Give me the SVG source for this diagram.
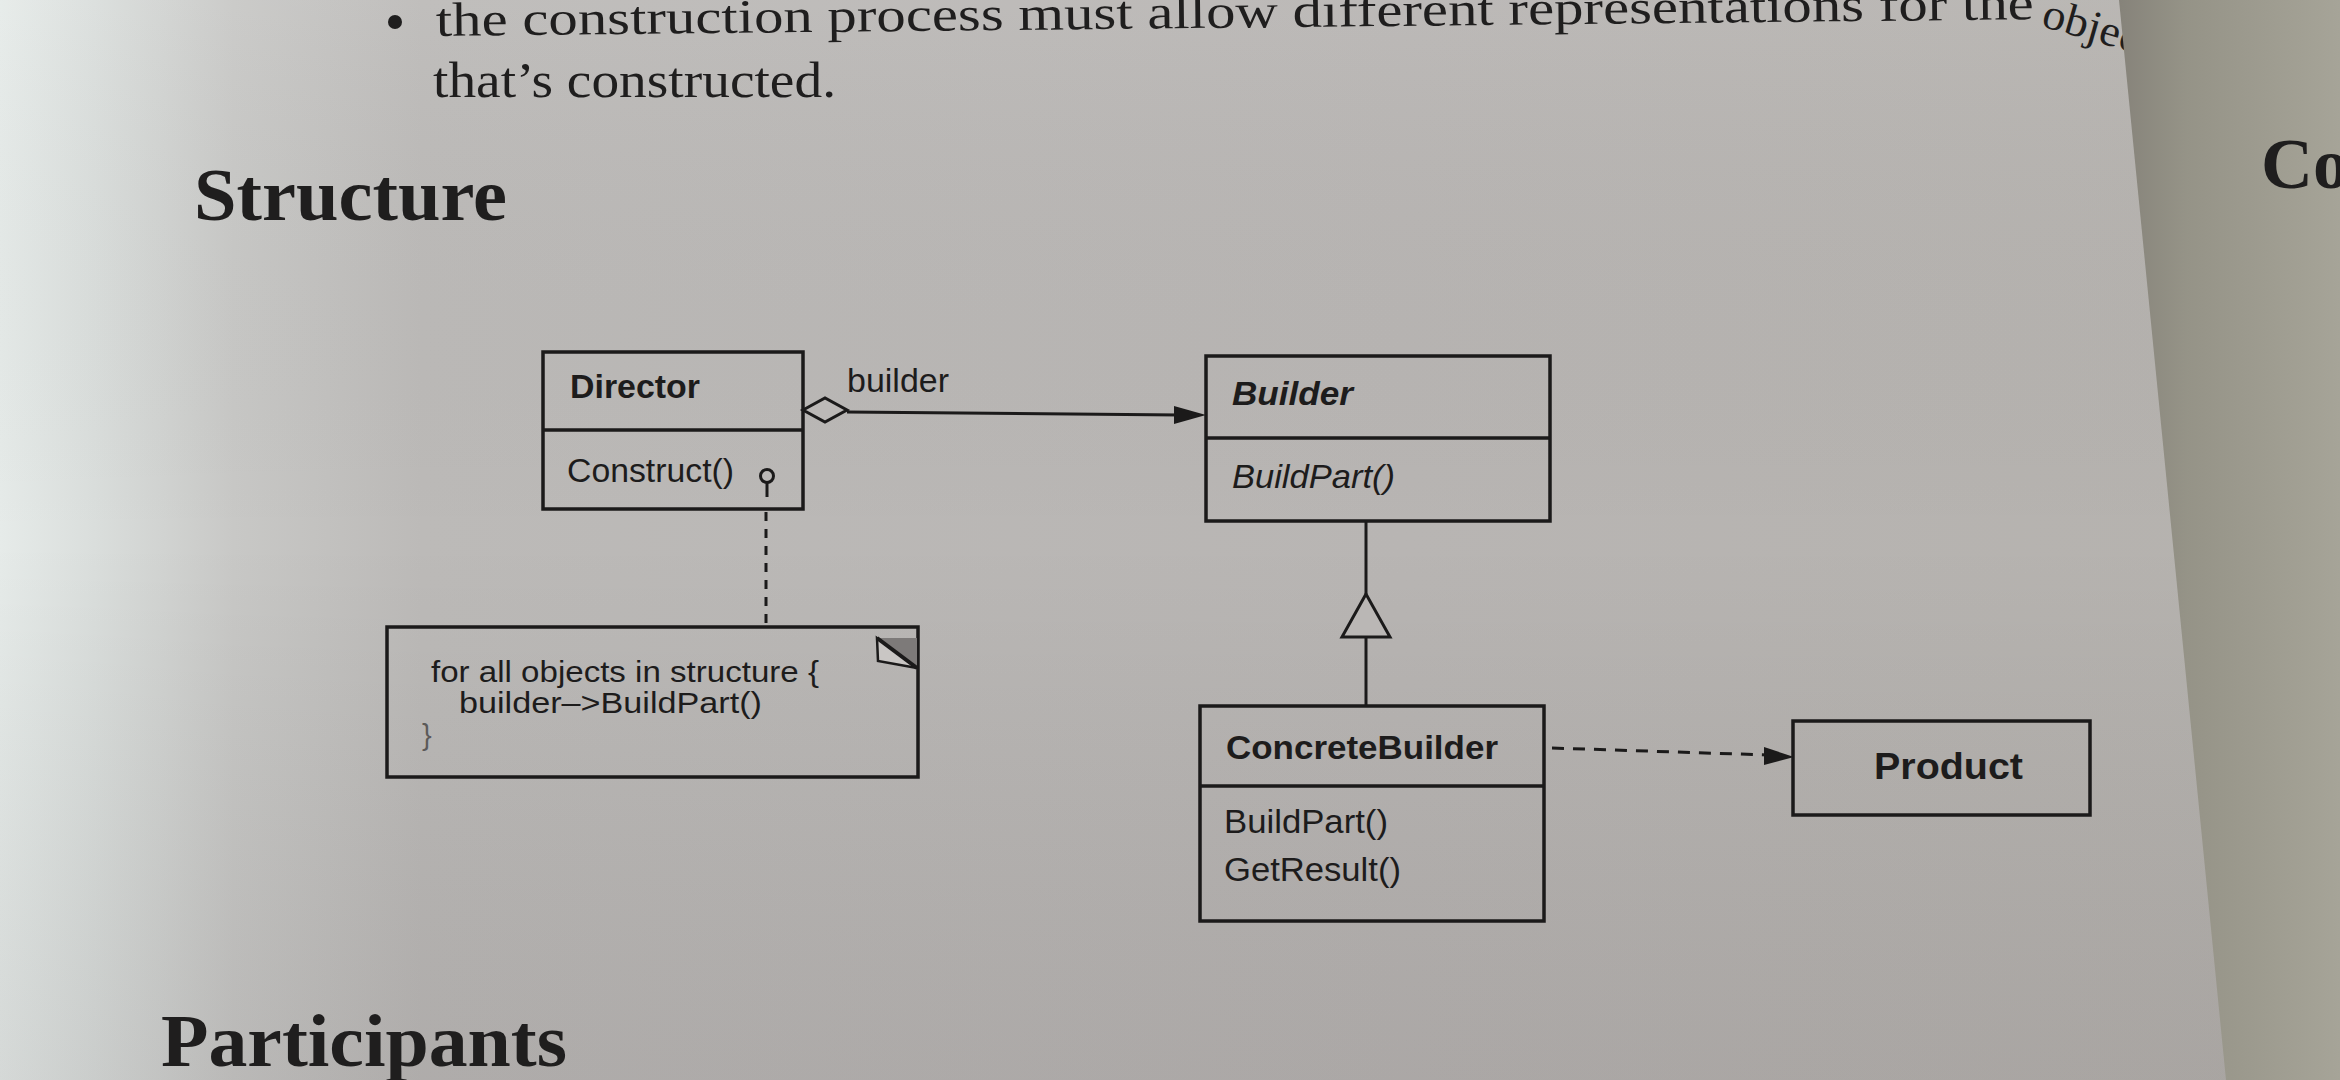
<svg xmlns="http://www.w3.org/2000/svg" width="2340" height="1080" viewBox="0 0 2340 1080">
<defs>
<linearGradient id="pg" x1="0" y1="0" x2="1" y2="0">
<stop offset="0" stop-color="#e6ebe9"/>
<stop offset="0.04" stop-color="#dadedc"/>
<stop offset="0.1" stop-color="#c8c8c6"/>
<stop offset="0.18" stop-color="#bcbab8"/>
<stop offset="0.6" stop-color="#b8b5b3"/>
<stop offset="1" stop-color="#b5b2ae"/>
</linearGradient>
<linearGradient id="shade" x1="0" y1="0" x2="0" y2="1">
<stop offset="0" stop-color="#ffffff" stop-opacity="0.06"/>
<stop offset="0.5" stop-color="#000000" stop-opacity="0"/>
<stop offset="1" stop-color="#2a1f22" stop-opacity="0.09"/>
</linearGradient>
<linearGradient id="rp" x1="0" y1="0" x2="1" y2="0">
<stop offset="0" stop-color="#86837a"/>
<stop offset="0.3" stop-color="#959387"/>
<stop offset="1" stop-color="#a6a498"/>
</linearGradient>
<style>
.box{fill:none;stroke:#1b1a1a;stroke-width:3.5}
.ln{fill:none;stroke:#1b1a1a;stroke-width:3}
.sans{font-family:"Liberation Sans",Arial,sans-serif;fill:#1d1c1c}
.serif{font-family:"Liberation Serif","Times New Roman",serif;fill:#1f1e1e}
.b{font-weight:bold}
.i{font-style:italic}
</style>
</defs>

<rect x="0" y="0" width="2340" height="1080" fill="url(#pg)"/>
<rect x="0" y="0" width="2340" height="1080" fill="url(#shade)"/>

<g id="page-text">
<circle cx="395" cy="22" r="7" fill="#1f1e1e"/>
<text class="serif" x="436" y="36" font-size="48" textLength="1598" lengthAdjust="spacingAndGlyphs" transform="rotate(-0.6 436 36)">the construction process must allow different representations for the</text>
<text class="serif" x="2040" y="26" font-size="44" textLength="100" lengthAdjust="spacingAndGlyphs" transform="rotate(16 2040 26)">objec</text>
<text class="serif" x="433" y="97" font-size="50" textLength="403" lengthAdjust="spacingAndGlyphs">that’s constructed.</text>
<text class="serif b" x="194" y="220" font-size="75" textLength="313" lengthAdjust="spacingAndGlyphs">Structure</text>
<text class="serif b" x="161" y="1066" font-size="74" textLength="406" lengthAdjust="spacingAndGlyphs">Participants</text>
</g>

<polygon points="2119,0 2340,0 2340,1080 2226,1080" fill="url(#rp)"/>
<text class="serif b" x="2261" y="188" font-size="72">Co</text>

<g id="connectors">
<line class="ln" x1="847" y1="412" x2="1180" y2="415"/>
<polygon points="1206,415 1174,406 1174,424" fill="#1b1a1a"/>
<polygon points="803,410 825,398 847,410 825,422" fill="#bcb9b7" stroke="#1b1a1a" stroke-width="3"/>
<text class="sans" x="847" y="392" font-size="34" textLength="102" lengthAdjust="spacingAndGlyphs">builder</text>
<circle cx="767" cy="476" r="6.5" fill="none" stroke="#1b1a1a" stroke-width="3"/>
<line class="ln" x1="767" y1="483" x2="767" y2="497"/>
<line class="ln" x1="766" y1="512" x2="766" y2="627" stroke-dasharray="9 8"/>
<line class="ln" x1="1366" y1="522" x2="1366" y2="594"/>
<polygon points="1366,594 1342,637 1390,637" fill="#bab7b5" stroke="#1b1a1a" stroke-width="3"/>
<line class="ln" x1="1366" y1="637" x2="1366" y2="706"/>
<line class="ln" x1="1552" y1="748" x2="1768" y2="755" stroke-dasharray="12 9"/>
<polygon points="1794,757 1764,747 1764,765" fill="#1b1a1a"/>
</g>

<g id="Director">
<rect class="box" x="543" y="352" width="260" height="157"/>
<line class="box" x1="543" y1="430" x2="803" y2="430"/>
<text class="sans b" x="570" y="398" font-size="34" textLength="130" lengthAdjust="spacingAndGlyphs">Director</text>
<text class="sans" x="567" y="482" font-size="34" textLength="167" lengthAdjust="spacingAndGlyphs">Construct()</text>
</g>

<g id="Note">
<rect class="box" x="387" y="627" width="531" height="150"/>
<polygon points="877,638 917,638 917,668" fill="#7d7a79"/>
<polygon points="877,638 878,661 917,668" fill="#c9c6c4" stroke="#1b1a1a" stroke-width="2.5"/>
<line x1="877" y1="638" x2="917" y2="668" stroke="#1b1a1a" stroke-width="4"/>
<text class="sans" x="431" y="682" font-size="29" textLength="388" lengthAdjust="spacingAndGlyphs">for all objects in structure {</text>
<text class="sans" x="459" y="713" font-size="29" textLength="303" lengthAdjust="spacingAndGlyphs">builder–&gt;BuildPart()</text>
<text class="sans" x="422" y="745" font-size="29" fill-opacity="0.6">}</text>
</g>

<g id="Builder">
<rect class="box" x="1206" y="356" width="344" height="165"/>
<line class="box" x1="1206" y1="438" x2="1550" y2="438"/>
<text class="sans b i" x="1232" y="405" font-size="34" textLength="121" lengthAdjust="spacingAndGlyphs">Builder</text>
<text class="sans i" x="1232" y="488" font-size="34" textLength="163" lengthAdjust="spacingAndGlyphs">BuildPart()</text>
</g>

<g id="ConcreteBuilder">
<rect class="box" x="1200" y="706" width="344" height="215"/>
<line class="box" x1="1200" y1="786" x2="1544" y2="786"/>
<text class="sans b" x="1226" y="759" font-size="34" textLength="272" lengthAdjust="spacingAndGlyphs">ConcreteBuilder</text>
<text class="sans" x="1224" y="833" font-size="34" textLength="164" lengthAdjust="spacingAndGlyphs">BuildPart()</text>
<text class="sans" x="1224" y="881" font-size="34" textLength="177" lengthAdjust="spacingAndGlyphs">GetResult()</text>
</g>

<g id="Product">
<rect class="box" x="1793" y="721" width="297" height="94"/>
<text class="sans b" x="1874" y="779" font-size="36" textLength="149" lengthAdjust="spacingAndGlyphs">Product</text>
</g>
</svg>
